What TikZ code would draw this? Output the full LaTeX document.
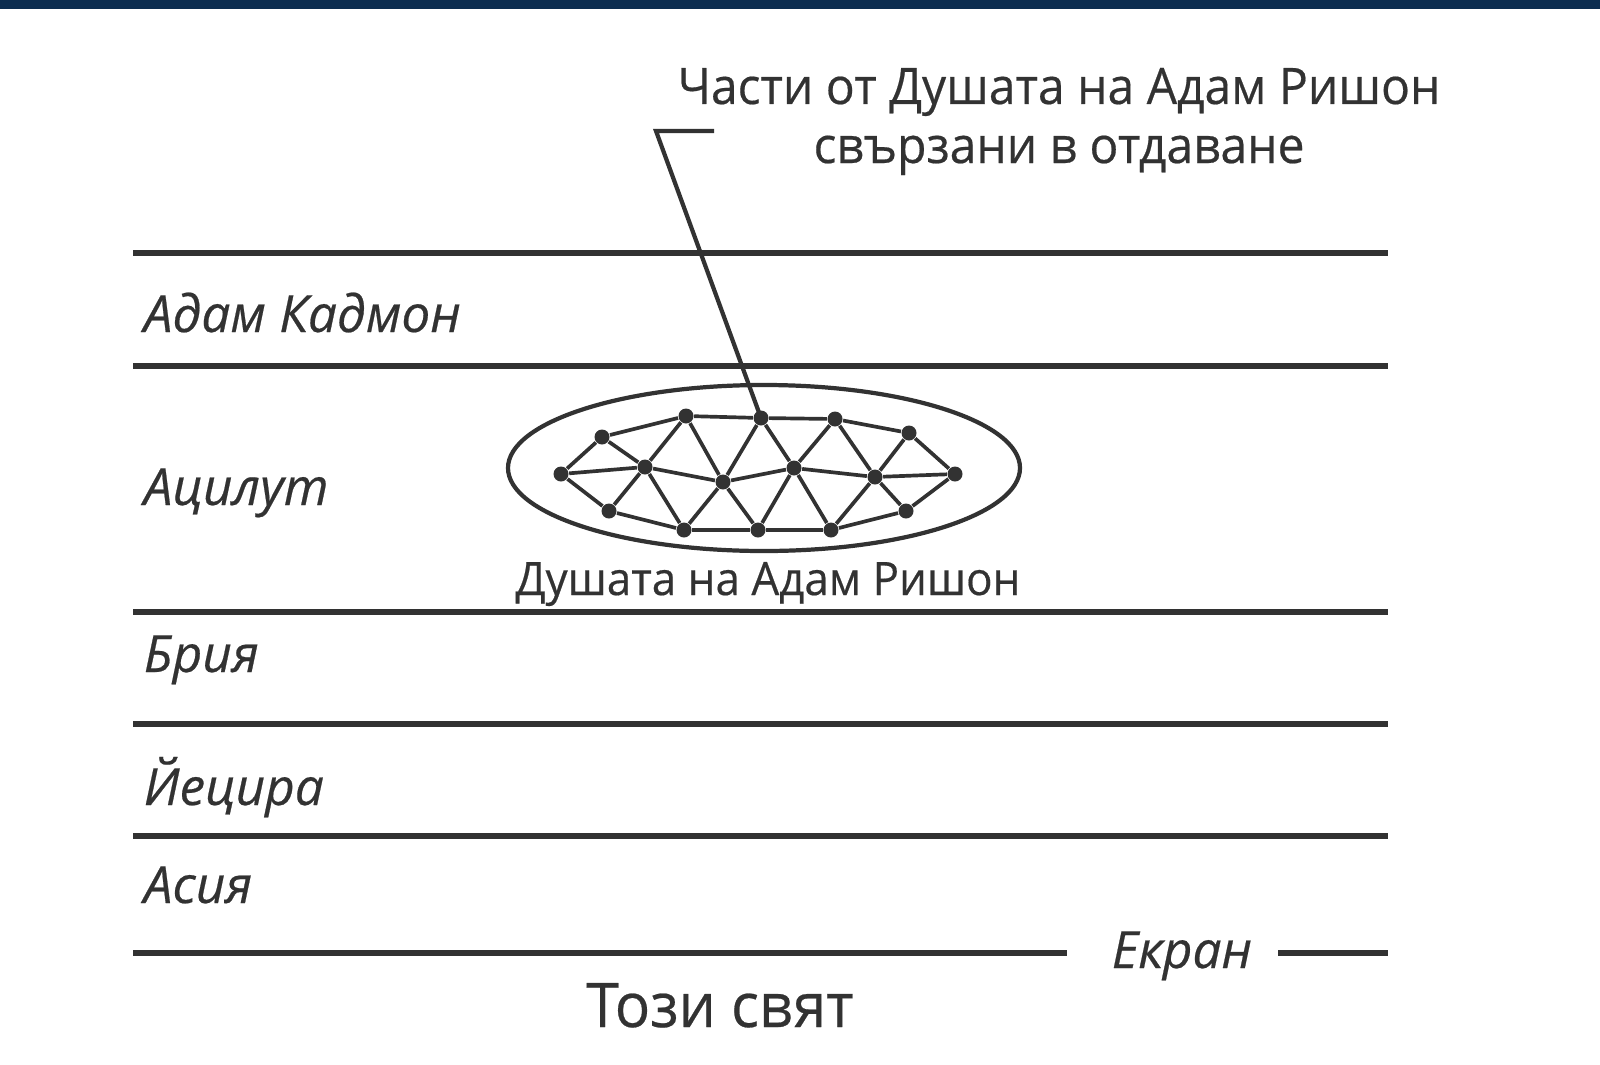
\documentclass[tikz,border=0pt]{standalone}
\usepackage{fontspec}
\setmainfont{Open Sans}[UprightFeatures={FakeStretch=0.955,FakeBold=0.4},ItalicFeatures={FakeBold=0.4}]
\definecolor{ink}{RGB}{50,50,50}
\definecolor{banner}{RGB}{12,45,80}
\def\soul{(7.64,5.96) ellipse (2.56 and 0.83)}
\tikzset{
  layer/.style={draw=ink, line width=1.45pt},
  world/.style={font=\fontsize{14.6}{17}\selectfont\itshape, text=ink, anchor=base west, inner sep=0pt},
  caption/.style={font=\fontsize{14.3}{16.8}\selectfont, text=ink, anchor=base, inner sep=0pt},
  spark/.style={circle, fill=ink, inner sep=0pt, minimum size=0.15cm},
  bond/.style={draw=ink, line width=1.05pt}
}
\begin{document}
\begin{tikzpicture}
    \useasboundingbox (0,0) rectangle (16,10.64);
    \fill[banner] (0,10.55) rectangle (16,10.64);

    % worlds
    \foreach \y in {8.11,6.98,4.52,3.40,2.28}
      \draw[layer] (1.33,\y) -- (13.88,\y);
    \draw[layer] (1.33,1.11) -- (10.67,1.11);
    \draw[layer] (12.78,1.11) -- (13.88,1.11);

    \node[world] (kadmon) at (1.43,7.32) {Адам Кадмон};
    \node[world] (atzilut) at (1.43,5.59) {Ацилут};
    \node[world] (beria) at (1.43,3.92) {Брия};
    \node[world] (yetzira) at (1.43,2.59) {Йецира};
    \node[world] (assiya) at (1.43,1.61) {Асия};
    \node[world] (screen) at (11.11,0.96) {Екран};
    \node[caption, font=\fontsize{17.5}{20}\selectfont] (thisworld) at (7.20,0.37) {Този свят};

    % soul of Adam HaRishon
    \draw[draw=ink, line width=1.2pt] \soul;
    \node[caption, font=\fontsize{13.1}{15}\selectfont] (soulname) at (7.68,4.69) {Душата на Адам Ришон};

    \node[spark] (t1) at (6.86,6.48) {};
    \node[spark] (t2) at (7.61,6.46) {};
    \node[spark] (t3) at (8.35,6.45) {};
    \node[spark] (ul) at (6.02,6.27) {};
    \node[spark] (ur) at (9.09,6.31) {};
    \node[spark] (l)  at (5.61,5.90) {};
    \node[spark] (m1) at (6.45,5.97) {};
    \node[spark] (m2) at (7.23,5.82) {};
    \node[spark] (m3) at (7.94,5.96) {};
    \node[spark] (m4) at (8.75,5.87) {};
    \node[spark] (r)  at (9.55,5.90) {};
    \node[spark] (ll) at (6.09,5.53) {};
    \node[spark] (lr) at (9.06,5.53) {};
    \node[spark] (b1) at (6.84,5.34) {};
    \node[spark] (b2) at (7.58,5.34) {};
    \node[spark] (b3) at (8.31,5.34) {};

    \foreach \a/\b in {ul/t1, t1/t2, t2/t3, t3/ur, ll/b1, b1/b2, b2/b3, b3/lr,
                       l/m1, m1/m2, m2/m3, m3/m4, m4/r,
                       l/ul, l/ll, ul/m1, ll/m1, m1/t1, m1/b1, t1/m2, b1/m2,
                       m2/t2, m2/b2, t2/m3, b2/m3, m3/t3, m3/b3, t3/m4, b3/m4,
                       m4/ur, m4/lr, ur/r, lr/r}
      \draw[bond] (\a) -- (\b);

    % parts connected in bestowal
    \node[caption, align=center] (parts) at (10.59,9.01) {Части от Душата на Адам Ришон\\свързани в отдаване};
    \coordinate (hook) at (6.56,9.33);
    \draw[draw=ink, line width=1.2pt] (7.14,9.33) -- (hook) -- (t2.center);
\end{tikzpicture}
\end{document}
